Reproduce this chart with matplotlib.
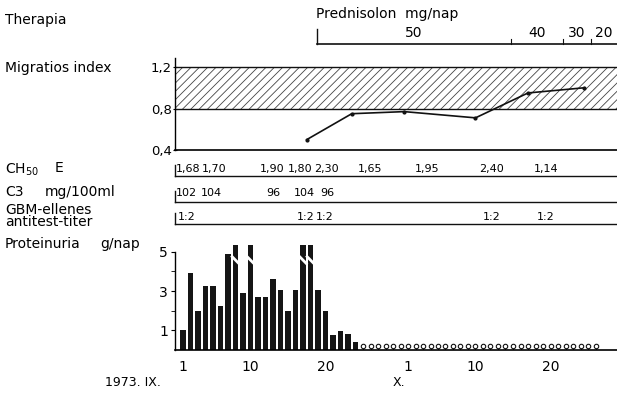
import numpy as np
import matplotlib
matplotlib.use("Agg")
import matplotlib.pyplot as plt

# day 1 = 1973 Sept 1, day 31 = Oct 1
prot_days = list(range(1, 25))
prot_values = [1.0, 3.9, 2.0, 3.25, 3.25, 2.25, 4.9, np.nan, 2.9, np.nan,
               2.7, 2.7, 3.6, 3.05, 2.0, 3.05, np.nan, np.nan, 3.05, 2.0,
               0.75, 0.95, 0.8, 0.4]
prot_offscale_days = [8, 10, 17, 18]
trace_days = list(range(25, 57))
trace_value = 0.2

mig_days = [17.5, 23.5, 30.5, 40, 47, 54.5]
mig_values = [0.50, 0.75, 0.77, 0.71, 0.95, 1.0]
mig_normal = (0.8, 1.2)

ch50_days = [1.7, 5.2, 12.9, 16.6, 20.1, 25.9, 33.5, 42.1, 49.4]
ch50_labels = ['1,68', '1,70', '1,90', '1,80', '2,30', '1,65', '1,95', '2,40', '1,14']
c3_days = [1.5, 4.8, 13.1, 17.2, 20.2]
c3_labels = ['102', '104', '96', '104', '96']
gbm_days = [1.5, 17.3, 19.9, 42.1, 49.3]
gbm_labels = ['1:2', '1:2', '1:2', '1:2', '1:2']

pred_change_days = [18.8, 44.7, 51.7, 55.4]
pred_doses = ['50', '40', '30', '20']

xtick_days = [1, 10, 20, 31, 40, 50]
xtick_labels = ['1', '10', '20', '1', '10', '20']

W, H = 617, 395
DAY0_PX, PX_PER_DAY = 183, 7.5


def fx(px):
    return px / W


def fy(py):
    return 1 - py / H


def day_at(px):
    return 1 + (px - DAY0_PX) / PX_PER_DAY


plt.rcParams['font.family'] = 'DejaVu Sans'
plt.rcParams['hatch.linewidth'] = 0.6
ink = '#111111'

fig = plt.figure(figsize=(W / 100, H / 100), dpi=100)

# overlay: x in days, y in pixels
ov = fig.add_axes([0, 0, 1, 1])
ov.set_xlim(day_at(0), day_at(W))
ov.set_ylim(H, 0)
ov.axis('off')

x0, x1 = day_at(175), day_at(W)

# left labels
fs = 10
fig.text(fx(5), fy(20), 'Therapia', fontsize=fs, va='center')
fig.text(fx(5), fy(68), 'Migratios index', fontsize=fs, va='center')
fig.text(fx(5), fy(170), r'CH$_{50}$', fontsize=fs, va='center')
fig.text(fx(55), fy(168), 'E', fontsize=fs, va='center')
fig.text(fx(5), fy(192), 'C3', fontsize=fs, va='center')
fig.text(fx(45), fy(192), 'mg/100ml', fontsize=fs, va='center')
fig.text(fx(5), fy(216), 'GBM-ellenes\nantitest-titer', fontsize=fs,
         va='center', linespacing=0.85)
fig.text(fx(5), fy(244), 'Proteinuria', fontsize=fs, va='center')
fig.text(fx(100), fy(244), 'g/nap', fontsize=fs, va='center')
fig.text(fx(105), fy(383), '1973. IX.', fontsize=9, va='center')
fig.text(fx(393), fy(383), 'X.', fontsize=9, va='center')

# prednisolon bar
ov.text(pred_change_days[0], 14, 'Prednisolon  mg/nap', fontsize=fs, va='center', ha='left')
ov.plot([pred_change_days[0], x1], [44, 44], color=ink, lw=1.2)
ov.plot([pred_change_days[0]] * 2, [29, 44], color=ink, lw=1)
for d in pred_change_days[1:]:
    ov.plot([d, d], [39, 44], color=ink, lw=0.8)
edges = pred_change_days + [x1]
for i, dose in enumerate(pred_doses):
    ov.text((edges[i] + edges[i + 1]) / 2, 33, dose, fontsize=fs, ha='center', va='center')

# lab rows
rows = [(ch50_days, ch50_labels, 169, 176),
        (c3_days, c3_labels, 193, 202),
        (gbm_days, gbm_labels, 217, 224)]
for days, labels, ty, ly in rows:
    ov.plot([x0, x1], [ly, ly], color=ink, lw=1)
    ov.plot([x0, x0], [ly - 11, ly], color=ink, lw=1)
    for d, lab in zip(days, labels):
        ov.text(d, ty, lab, fontsize=8, ha='center', va='center')

# migratios index
am = fig.add_axes([fx(175), fy(150), fx(W) - fx(175), (150 - 57.7) / H])
am.patch.set_alpha(0)
am.set_xlim(x0, x1)
am.set_ylim(0.4, 1.29)
am.axhspan(mig_normal[0], mig_normal[1], facecolor='none', edgecolor='#444444',
           hatch='////', linewidth=0)
for v in mig_normal:
    am.axhline(v, color=ink, lw=1)
am.plot(mig_days, mig_values, color=ink, lw=1.2, marker='o', ms=2)
for s in ['top', 'right']:
    am.spines[s].set_visible(False)
am.spines['left'].set_linewidth(1)
am.spines['bottom'].set_linewidth(1.2)
am.set_xticks([])
am.set_yticks([0.4, 0.8, 1.2])
am.set_yticklabels(['0,4', '0,8', '1,2'], fontsize=9.5)
am.tick_params(axis='y', length=3, direction='inout', pad=1)

# proteinuria
ap = fig.add_axes([fx(175), fy(350), fx(W) - fx(175), 5.4 * 19.65 / H])
ap.patch.set_alpha(0)
ap.set_xlim(x0, x1)
ap.set_ylim(0, 5.4)
vals = np.array(prot_values, dtype=float)
ap.bar(prot_days, np.nan_to_num(vals), width=0.74, color='#151515')
top = 5.33
ap.bar(prot_offscale_days, [top] * len(prot_offscale_days), width=0.74,
       color='#151515', clip_on=False)
for d in prot_offscale_days:
    ap.plot([d - 0.45, d + 0.45], [4.75, 4.4], color='white', lw=2, clip_on=False)
ap.vlines(trace_days, 0, trace_value - 0.08, color=ink, lw=0.8)
ap.plot(trace_days, [trace_value] * len(trace_days), ls='none', marker='o', ms=3.2,
        mfc='white', mec=ink, mew=0.8)
for s in ['top', 'right']:
    ap.spines[s].set_visible(False)
ap.spines['left'].set_bounds(0, 5)
ap.spines['left'].set_linewidth(1)
ap.spines['bottom'].set_linewidth(1.2)
ap.set_yticks([1, 3, 5])
ap.set_yticklabels(['1', '3', '5'], fontsize=10)
ap.set_yticks([2, 4], minor=True)
ap.tick_params(axis='y', which='both', length=3, pad=2)
ap.set_xticks(xtick_days)
ap.set_xticklabels(xtick_labels, fontsize=10)
ap.tick_params(axis='x', length=0, pad=7)

fig.savefig('out.png', dpi=100)
